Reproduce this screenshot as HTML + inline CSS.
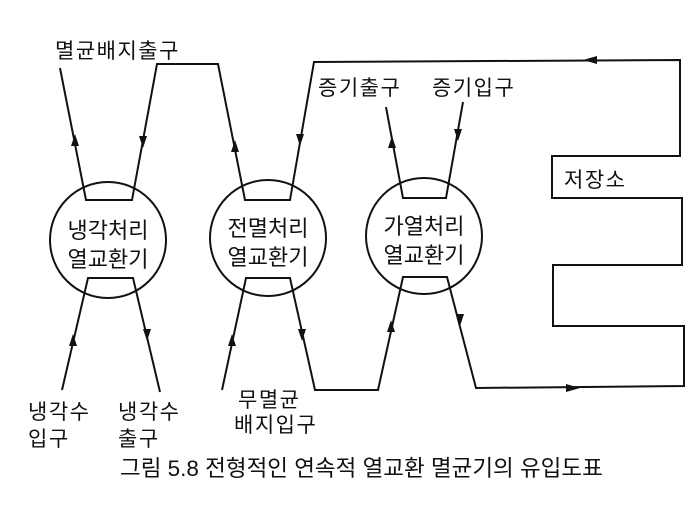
<!DOCTYPE html>
<html><head><meta charset="utf-8"><style>
html,body{margin:0;padding:0;background:#fff;}
svg{display:block;}
text{font-family:"Liberation Sans","Noto Sans CJK KR",sans-serif;fill:#111;}
</style></head><body>
<svg width="700" height="506" viewBox="0 0 700 506">
<g fill="none" stroke="#111" stroke-width="2">
<circle cx="108" cy="240" r="58"/>
<circle cx="268" cy="238" r="58"/>
<circle cx="424" cy="236" r="58"/>
<polyline points="60,68 86,200 132,200 157,64 218,64 245,200 290,200 314,62 680,60 680,156 552,156 552,198 682,198 682,265 553,265 553,326 684,326 684,386 476,388 447,277 403,277 378,390 315,390 290,278 246,278 222,390"/>
<polyline points="386,107 403,198 446,198 463,102"/>
<polyline points="62,390 88,278 133,278 160,392"/>
</g>
<g fill="#111">
<polygon points="75,134 71,146 79,146"/>
<polygon points="235,140 231,152 239,152"/>
<polygon points="392,136 388,148 396,148"/>
<polygon points="73,334 69,346 77,346"/>
<polygon points="232,334 228,346 236,346"/>
<polygon points="391,320 387,332 395,332"/>
<polygon points="143,148 139,136 147,136"/>
<polygon points="300,146 296,134 304,134"/>
<polygon points="458,141 454,129 462,129"/>
<polygon points="147,341 143,329 151,329"/>
<polygon points="302,341 298,329 306,329"/>
<polygon points="460,326 456,314 464,314"/>
<polygon points="580,388 566,384 566,392"/>
<polygon points="583,60 597,56 597,64"/>
</g>
<g font-size="21" letter-spacing="1.5">
<text x="55" y="58">멸균배지출구</text>
<text x="318" y="95">증기출구</text>
<text x="432" y="95">증기입구</text>
<text x="564" y="187">저장소</text>
<g font-size="22" text-anchor="middle" letter-spacing="0">
<text x="108" y="238">냉각처리</text><text x="108" y="267">열교환기</text>
<text x="268" y="236">전멸처리</text><text x="268" y="265">열교환기</text>
<text x="424" y="234">가열처리</text><text x="424" y="263">열교환기</text>
</g>
<text x="28" y="419">냉각수</text><text x="28" y="446">입구</text>
<text x="118" y="419">냉각수</text><text x="118" y="446">출구</text>
<text x="238" y="407">무멸균</text><text x="234" y="432">배지입구</text>
</g>
<text x="120" y="476" font-size="22.5">그림 5.8 전형적인 연속적 열교환 멸균기의 유입도표</text>
</svg>
</body></html>
